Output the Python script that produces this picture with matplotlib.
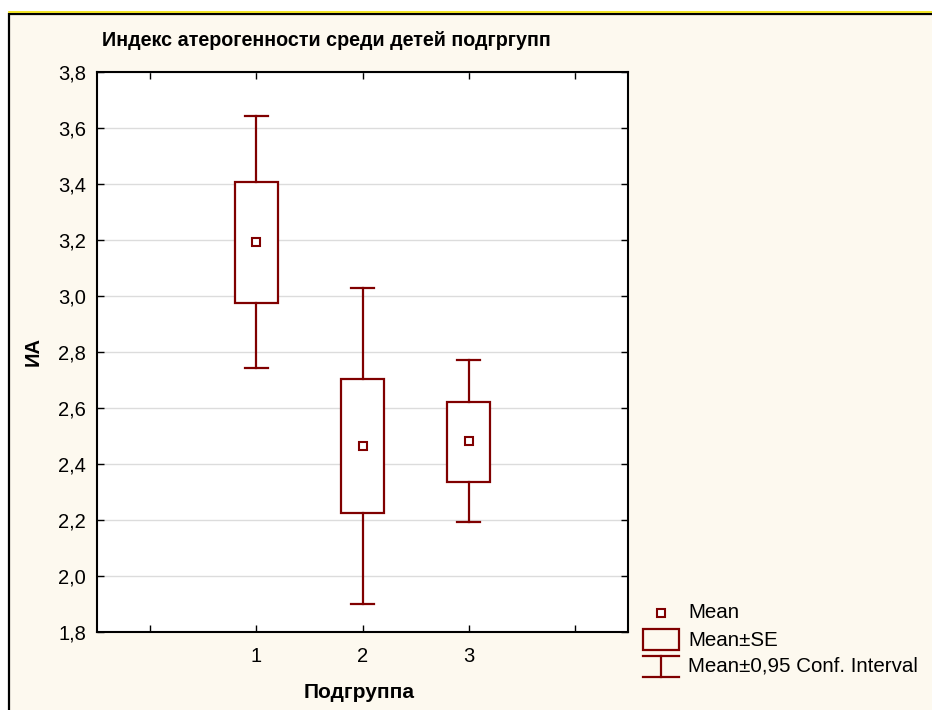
import matplotlib.pyplot as plt
from matplotlib.patches import Rectangle
from matplotlib.ticker import FuncFormatter

plt.rcParams['font.family'] = ['Liberation Sans', 'DejaVu Sans']

# group statistics for the atherogenic index
groups = [1, 2, 3]
means = [3.194, 2.466, 2.481]
se_low = [2.976, 2.226, 2.337]
se_high = [3.408, 2.704, 2.623]
ci_low = [2.742, 1.900, 2.192]
ci_high = [3.643, 3.030, 2.770]
y_ticks = [1.8, 2.0, 2.2, 2.4, 2.6, 2.8, 3.0, 3.2, 3.4, 3.6, 3.8]
x_ticks = [0, 1, 2, 3, 4]
x_labels = ['', '1', '2', '3', '']

W, H = 932, 710
red = '#800000'
cream = '#fdf9ef'

fig = plt.figure(figsize=(W / 100, H / 100), dpi=100)
fig.patch.set_facecolor('white')

# background layer in pixel units: frame, titles and legend
bg = fig.add_axes([0, 0, 1, 1], zorder=-1)
bg.set_xlim(0, W)
bg.set_ylim(H, 0)
bg.axis('off')
bg.add_patch(Rectangle((9, 13.5), W, H, facecolor=cream, edgecolor='black', lw=1.6))
bg.plot([9, W], [11.5, 11.5], color='#f0e000', lw=1.2)

bg.text(102, 41, 'Индекс атерогенности среди детей подгргупп',
        fontsize=14.2, fontweight='bold', va='center', ha='left')
bg.text(359, 692, 'Подгруппа', fontsize=15, fontweight='bold', ha='center', va='center')
bg.text(33, 351, 'ИА', fontsize=14.5, fontweight='bold', rotation=90, ha='center', va='center')

bg.plot(661, 613, 's', ms=5.5, mfc='white', mec=red, mew=1.5)
bg.add_patch(Rectangle((643, 629), 35.5, 20.5, facecolor='none', edgecolor=red, lw=1.6))
bg.plot([643, 678.5], [656, 656], color=red, lw=1.6)
bg.plot([643, 678.5], [677, 677], color=red, lw=1.6)
bg.plot([661, 661], [656, 677], color=red, lw=1.6)
for ty, txt in [(613, 'Mean'), (640, 'Mean±SE'), (666, 'Mean±0,95 Conf. Interval')]:
    bg.text(688, ty, txt, fontsize=14.8, va='center', ha='left')

ax = fig.add_axes([97 / W, 1 - 632 / H, 531 / W, 560 / H])
ax.set_facecolor('white')
ax.set_xlim(-0.5, 4.5)
ax.set_ylim(1.8, 3.8)
ax.set_yticks(y_ticks)
ax.yaxis.set_major_formatter(FuncFormatter(lambda v, p: f'{v:.1f}'.replace('.', ',')))
ax.set_xticks(x_ticks)
ax.set_xticklabels(x_labels)
ax.tick_params(direction='in', top=True, right=True, length=5, width=1,
               labelsize=14.5, colors='black')
ax.tick_params(axis='y', pad=8)
ax.tick_params(axis='x', pad=11)
for s in ax.spines.values():
    s.set_linewidth(1.5)
ax.yaxis.grid(True, color='#dcdcdc', linewidth=1)
ax.set_axisbelow(True)

box_w = 0.4
cap_w = 0.22
for g, m, sl, sh, cl, ch in zip(groups, means, se_low, se_high, ci_low, ci_high):
    ax.add_patch(Rectangle((g - box_w / 2, sl), box_w, sh - sl, facecolor='white',
                           edgecolor=red, linewidth=1.6, zorder=3))
    ax.plot([g, g], [sh, ch], color=red, lw=1.6, zorder=3)
    ax.plot([g, g], [cl, sl], color=red, lw=1.6, zorder=3)
    ax.plot([g - cap_w / 2, g + cap_w / 2], [ch, ch], color=red, lw=1.6, zorder=3)
    ax.plot([g - cap_w / 2, g + cap_w / 2], [cl, cl], color=red, lw=1.6, zorder=3)
    ax.plot(g, m, 's', ms=5.5, mfc='white', mec=red, mew=1.5, zorder=4)

fig.savefig('out.png', dpi=100, facecolor=fig.get_facecolor())
